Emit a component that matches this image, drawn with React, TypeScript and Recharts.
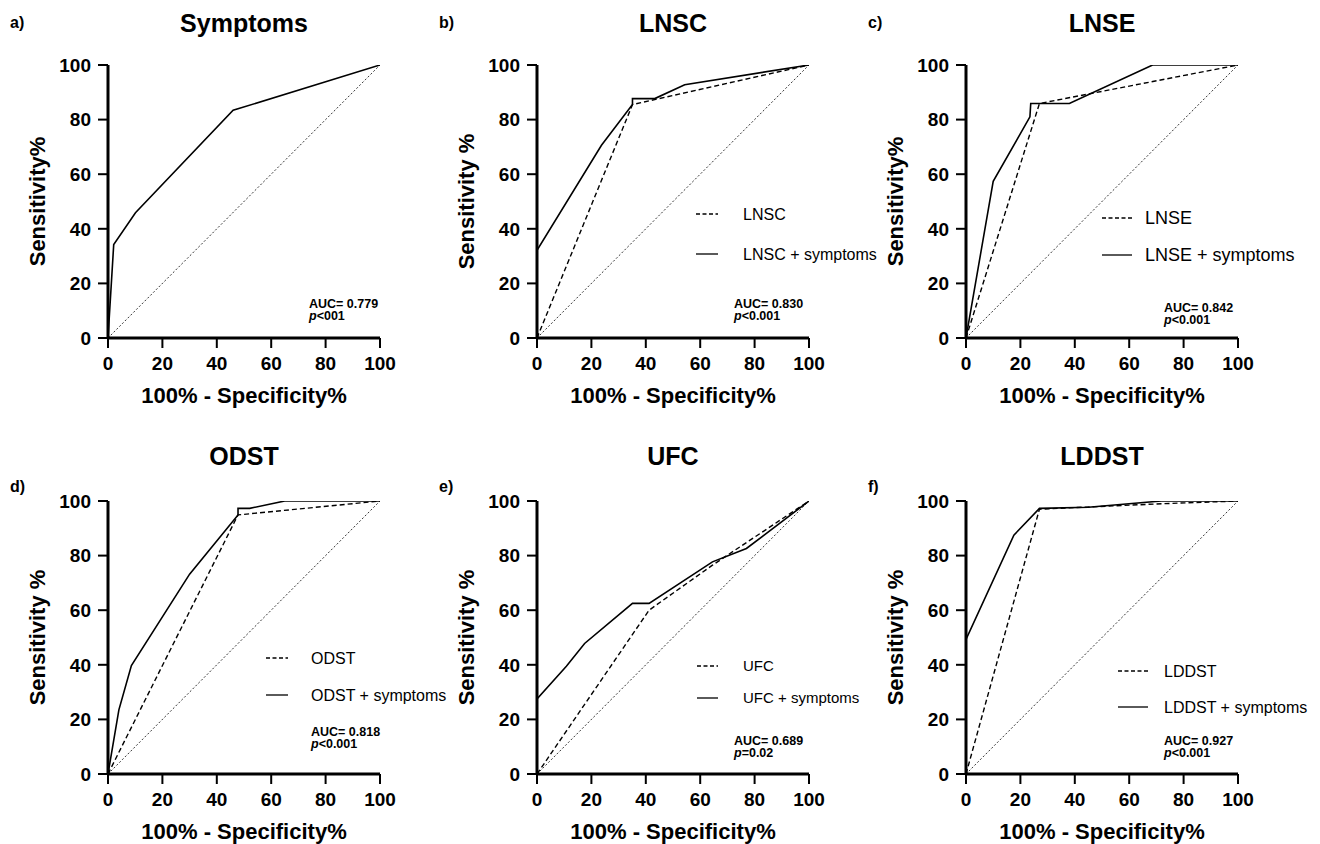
import React from "react";
import { LineChart, Line, XAxis, YAxis, Customized } from "recharts";

const FONT = "'Liberation Sans', Arial, Helvetica, sans-serif";

const ticks = [0, 20, 40, 60, 80, 100];
const chanceX = [0, 100];
const chanceY = [0, 100];

// a) Symptoms
const symX = [0, 2.1, 10.1, 46, 100];
const symY = [0, 34.2, 45.9, 83.4, 100];

// b) LNSC
const lnscX = [0, 35.1, 100];
const lnscY = [0, 85.5, 100];
const lnscSymX = [0, 23.7, 35.1, 35.1, 43.3, 54.3, 100];
const lnscSymY = [32.1, 70.6, 85.5, 87.7, 87.7, 92.8, 100];

// c) LNSE
const lnseX = [0, 27, 100];
const lnseY = [0, 85.9, 100];
const lnseSymX = [0, 10, 23.5, 23.8, 38, 68.6, 100];
const lnseSymY = [0, 57.4, 81, 85.9, 85.9, 100, 100];

// d) ODST
const odstX = [0, 47.8, 100];
const odstY = [0, 94.9, 100];
const odstSymX = [0, 4, 8.6, 30, 47.8, 47.8, 52.1, 65, 100];
const odstSymY = [0, 23.5, 39.7, 73.2, 94.9, 97.3, 97.3, 100, 100];

// e) UFC
const ufcX = [0, 41.2, 64.5, 100];
const ufcY = [0, 60, 76.5, 100];
const ufcSymX = [0, 10.8, 17.5, 35.1, 41.2, 64.5, 77, 100];
const ufcSymY = [27.5, 39.5, 47.8, 62.5, 62.5, 77.7, 82.6, 100];

// f) LDDST
const lddstX = [0, 27, 72, 100];
const lddstY = [0, 97, 99, 100];
const lddstSymX = [0, 17.6, 27, 45, 71.8, 100];
const lddstSymY = [49.3, 87.5, 97.3, 97.7, 100, 100];

const zip = (xs: number[], ys: number[]) => xs.map((x, i) => ({ x, y: ys[i] }));

type PanelSpec = {
  letter: string;
  title: string;
  yLabel: string;
  left: number;
  top: number;
  testName?: string;
  test?: { x: number; y: number }[];
  combined: { x: number; y: number }[];
  auc: string;
  p: string;
  aucX: number;
  aucY: number;
  letterY: number;
  titleY: number;
  legend?: { x1: number; x2: number; tx: number; y1: number; y2: number; size: number };
};

const panels: PanelSpec[] = [
  {
    letter: "a)", title: "Symptoms", yLabel: "Sensitivity%", left: 0, top: 0,
    combined: zip(symX, symY), auc: "AUC= 0.779", p: "<001", aucX: 309, aucY: 308,
    letterY: 22, titleY: 23,
  },
  {
    letter: "b)", title: "LNSC", yLabel: "Sensitivity %", left: 429, top: 0,
    testName: "LNSC", test: zip(lnscX, lnscY), combined: zip(lnscSymX, lnscSymY),
    auc: "AUC= 0.830", p: "<0.001", aucX: 305, aucY: 308, letterY: 22, titleY: 23,
    legend: { x1: 267, x2: 289, tx: 314, y1: 214, y2: 254, size: 16 },
  },
  {
    letter: "c)", title: "LNSE", yLabel: "Sensitivity%", left: 858, top: 0,
    testName: "LNSE", test: zip(lnseX, lnseY), combined: zip(lnseSymX, lnseSymY),
    auc: "AUC= 0.842", p: "<0.001", aucX: 306, aucY: 312, letterY: 22, titleY: 23,
    legend: { x1: 244, x2: 274, tx: 287, y1: 218, y2: 255, size: 18 },
  },
  {
    letter: "d)", title: "ODST", yLabel: "Sensitivity %", left: 0, top: 436,
    testName: "ODST", test: zip(odstX, odstY), combined: zip(odstSymX, odstSymY),
    auc: "AUC= 0.818", p: "<0.001", aucX: 311, aucY: 300, letterY: 50, titleY: 20,
    legend: { x1: 266, x2: 288, tx: 311, y1: 222, y2: 259, size: 16 },
  },
  {
    letter: "e)", title: "UFC", yLabel: "Sensitivity %", left: 429, top: 436,
    testName: "UFC", test: zip(ufcX, ufcY), combined: zip(ufcSymX, ufcSymY),
    auc: "AUC= 0.689", p: "=0.02", aucX: 305, aucY: 309, letterY: 50, titleY: 20,
    legend: { x1: 268, x2: 289, tx: 314, y1: 230, y2: 262, size: 15 },
  },
  {
    letter: "f)", title: "LDDST", yLabel: "Sensitivity %", left: 858, top: 436,
    testName: "LDDST", test: zip(lddstX, lddstY), combined: zip(lddstSymX, lddstSymY),
    auc: "AUC= 0.927", p: "<0.001", aucX: 306, aucY: 309, letterY: 50, titleY: 20,
    legend: { x1: 260, x2: 290, tx: 306, y1: 235, y2: 271, size: 16 },
  },
];

const W = 460;
const H = 408;
const PLOT_L = 108;
const PLOT_W = 272;
const PLOT_T = 65;
const PLOT_H = 273;

function Panel({ s }: { s: PanelSpec }) {
  const cx = PLOT_L + PLOT_W / 2;
  const cy = PLOT_T + PLOT_H / 2;
  const overlay = () => (
    <g fontFamily={FONT} fill="#000">
      <text x={10} y={s.letterY} dy="0.35em" fontSize={16} fontWeight="bold">{s.letter}</text>
      <text x={cx} y={s.titleY} dy="0.35em" textAnchor="middle" fontSize={25} fontWeight="bold">{s.title}</text>
      <text
        x={37}
        y={cy}
        dy="0.35em"
        textAnchor="middle"
        fontSize={22}
        fontWeight="bold"
        transform={`rotate(-90, 37, ${cy})`}
      >
        {s.yLabel}
      </text>
      <text x={cx} y={395} dy="0.35em" textAnchor="middle" fontSize={22} fontWeight="bold">100% - Specificity%</text>
      <text x={s.aucX} y={s.aucY} fontSize={12.5} fontWeight="bold">{s.auc}</text>
      <text x={s.aucX} y={s.aucY + 12} fontSize={12.5} fontWeight="bold">
        <tspan fontStyle="italic">p</tspan>
        <tspan>{s.p}</tspan>
      </text>
      {s.legend && s.testName ? (
        <g fontSize={s.legend.size}>
          <line x1={s.legend.x1} x2={s.legend.x2} y1={s.legend.y1} y2={s.legend.y1} stroke="#000" strokeWidth={1.3} strokeDasharray="4 2.5" />
          <text x={s.legend.tx} y={s.legend.y1} dy="0.35em">{s.testName}</text>
          <line x1={s.legend.x1} x2={s.legend.x2} y1={s.legend.y2} y2={s.legend.y2} stroke="#000" strokeWidth={1.3} />
          <text x={s.legend.tx} y={s.legend.y2} dy="0.35em">{s.testName + " + symptoms"}</text>
        </g>
      ) : null}
    </g>
  );
  return (
    <div style={{ position: "absolute", left: s.left, top: s.top, width: W, height: H }}>
      <LineChart width={W} height={H} margin={{ top: PLOT_T, left: 48, right: W - PLOT_L - PLOT_W, bottom: H - PLOT_T - PLOT_H - 40 }}>
        <XAxis
          type="number"
          dataKey="x"
          domain={[0, 100]}
          ticks={ticks}
          height={40}
          allowDataOverflow
          axisLine={{ stroke: "#000", strokeWidth: 3 }}
          tickLine={{ stroke: "#000", strokeWidth: 2 }}
          tickSize={10}
          tickMargin={9}
          tick={{ fill: "#000", fontSize: 19, fontWeight: "bold", fontFamily: FONT }}
        />
        <YAxis
          type="number"
          dataKey="y"
          domain={[0, 100]}
          ticks={ticks}
          width={60}
          allowDataOverflow
          axisLine={{ stroke: "#000", strokeWidth: 3 }}
          tickLine={{ stroke: "#000", strokeWidth: 2 }}
          tickSize={10}
          tickMargin={7}
          tick={{ fill: "#000", fontSize: 19, fontWeight: "bold", fontFamily: FONT }}
        />
        <Line
          data={zip(chanceX, chanceY)}
          dataKey="y"
          type="linear"
          stroke="#000"
          strokeWidth={0.8}
          strokeDasharray="2 2"
          dot={false}
          activeDot={false}
          isAnimationActive={false}
        />
        {s.test ? (
          <Line
            data={s.test}
            dataKey="y"
            type="linear"
            stroke="#000"
            strokeWidth={1.4}
            strokeDasharray="5 3"
            dot={false}
            activeDot={false}
            isAnimationActive={false}
          />
        ) : null}
        <Line
          data={s.combined}
          dataKey="y"
          type="linear"
          stroke="#000"
          strokeWidth={1.6}
          dot={false}
          activeDot={false}
          isAnimationActive={false}
        />
        <Customized component={overlay} />
      </LineChart>
    </div>
  );
}

export default function App() {
  return (
    <div style={{ position: "absolute", left: 0, top: 0, width: 1320, height: 844, background: "#fff", overflow: "hidden" }}>
      {panels.map((s) => (
        <Panel key={s.letter} s={s} />
      ))}
    </div>
  );
}
